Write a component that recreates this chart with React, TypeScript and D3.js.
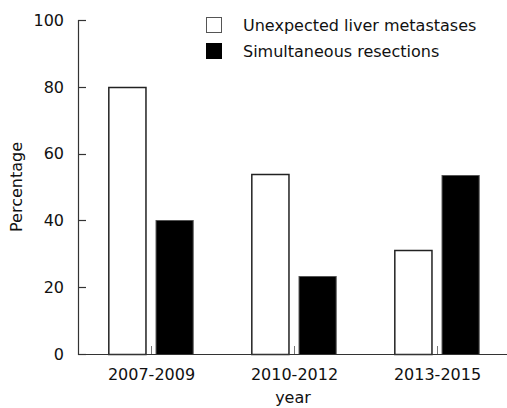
import React from "react";
import * as d3 from "d3";

// periods on the x axis
const periods = ["2007-2009", "2010-2012", "2013-2015"];
const seriesNames = ["Unexpected liver metastases", "Simultaneous resections"];
// percentage values per period
const unexpectedMetastases = [80, 54, 31];
const simultaneousResections = [40, 23.5, 53.5];
const yTicks = [0, 20, 40, 60, 80, 100];

const W = 507;
const H = 408;
const FONT = "'DejaVu Sans', Verdana, sans-serif";

export default function App() {
	const x0 = d3.scaleBand<string>().domain(periods).range([79, 508]).paddingInner(0.41).paddingOuter(0.205);
	const x1 = d3.scaleBand<string>().domain(seriesNames).range([0, x0.bandwidth()]).paddingInner(0.213);
	const y = d3.scaleLinear().domain([0, 100]).range([354, 20]);

	const values = [unexpectedMetastases, simultaneousResections];
	const fills = ["#ffffff", "#000000"];
	const strokes = ["#222", "#555"];

	const axisX = 78;
	const axisColor = "#333";

	return (
		<svg width={W} height={H} style={{ position: "absolute", left: 0, top: 0, background: "#fff" }} fontFamily={FONT}>
			{/* bars */}
			{periods.map((p, i) => (
				<g key={p} transform={`translate(${x0(p)},0)`}>
					{seriesNames.map((s, si) => {
						const v = values[si][i];
						return (
							<rect
								key={s}
								x={x1(s)! + 0.5}
								y={Math.round(y(v)) + 0.5}
								width={x1.bandwidth()}
								height={y(0) - Math.round(y(v))}
								fill={fills[si]}
								stroke={strokes[si]}
								strokeWidth={si === 0 ? 1.5 : 1}
							/>
						);
					})}
				</g>
			))}

			{/* x axis */}
			<line x1={axisX} x2={W} y1={y(0) + 0.5} y2={y(0) + 0.5} stroke={axisColor} strokeWidth={1.2} />
			{periods.map((p) => {
				const cx = Math.round(x0(p)! + x0.bandwidth() / 2) + 0.5;
				return (
					<g key={p}>
						<line x1={cx} x2={cx} y1={y(0)} y2={y(0) - 8} stroke="#777" strokeWidth={1} />
						<text x={cx} y={380} textAnchor="middle" fontSize={16} fill="#111">
							{p}
						</text>
					</g>
				);
			})}
			<text x={293} y={403} textAnchor="middle" fontSize={16} fill="#111">
				year
			</text>

			{/* y axis */}
			<line x1={axisX + 0.5} x2={axisX + 0.5} y1={y(100)} y2={y(0) + 1} stroke={axisColor} strokeWidth={1.2} />
			{yTicks.map((t) => (
				<g key={t}>
					<line x1={axisX} x2={axisX + 8} y1={Math.round(y(t)) + 0.5} y2={Math.round(y(t)) + 0.5} stroke={axisColor} strokeWidth={1.2} />
					<text x={64} y={y(t)} dy="0.36em" textAnchor="end" fontSize={16} fill="#111">
						{t}
					</text>
				</g>
			))}
			<text transform={`translate(22,${(y(0) + y(100)) / 2}) rotate(-90)`} textAnchor="middle" fontSize={16} fill="#111">
				Percentage
			</text>

			{/* legend */}
			{seriesNames.map((s, si) => (
				<g key={s} transform={`translate(0,${si * 26})`}>
					<rect x={206.5} y={17.5} width={15} height={15} fill={fills[si]} stroke={si === 0 ? "#555" : "#000"} strokeWidth={1} />
					<text x={243} y={25.5} dy="0.36em" fontSize={16} fill="#111">
						{s}
					</text>
				</g>
			))}
		</svg>
	);
}
